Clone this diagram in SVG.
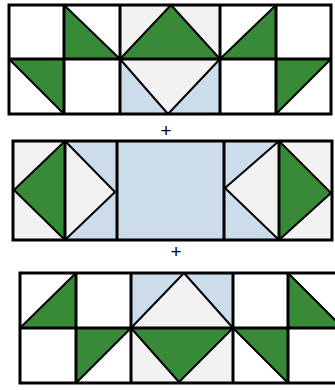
<svg xmlns="http://www.w3.org/2000/svg" width="335" height="390" viewBox="0 0 335 390">
<style>
.g{fill:#388a38;stroke:#000;stroke-width:2;stroke-linejoin:round}
.l{fill:#f2f2f2;stroke:#000;stroke-width:2;stroke-linejoin:round}
.bf{fill:#cddcea}
.lf{fill:#f2f2f2}
.wf{fill:#fff}
.grid{fill:none;stroke:#000;stroke-width:3}
.plus{font-family:"Liberation Sans",Arial,sans-serif;font-size:19px;fill:#000;text-anchor:middle}
</style>
<g id="top-row">
<rect class="wf" x="9" y="5" width="322" height="109"/>
<rect class="lf" x="120" y="5" width="100" height="54"/>
<polygon class="g" points="120,59 171,5 220,59"/>
<rect class="bf" x="120" y="59" width="100" height="55"/>
<polygon class="l" points="120,59 220,59 168,114"/>
<polygon class="g" points="9,59 64,59 64,114"/>
<polygon class="g" points="64,5 64,59 120,59"/>
<polygon class="g" points="220,59 276,5 276,59"/>
<polygon class="g" points="276,59 331,59 276,114"/>
<path class="grid" d="M9,5H331V114H9Z M64,5V114 M120,5V114 M220,5V114 M276,5V114 M9,59H331"/>
</g>
<text id="plus1" class="plus" x="166" y="137">+</text>
<g id="middle-row">
<rect class="lf" x="13" y="141" width="52" height="99"/>
<polygon class="g" points="65,141 14,190 65,240"/>
<rect class="bf" x="65" y="141" width="214" height="99"/>
<polygon class="l" points="65,141 115,192 65,240"/>
<polygon class="l" points="279,141 225,188 279,240"/>
<rect class="lf" x="279" y="141" width="53" height="99"/>
<polygon class="g" points="279,141 331,193 279,240"/>
<path class="grid" d="M13,141H332V240H13Z M65,141V240 M117,141V240 M224,141V240 M279,141V240"/>
</g>
<text id="plus2" class="plus" x="176" y="258">+</text>
<g id="bottom-row">
<rect class="wf" x="20" y="273" width="323" height="110"/>
<rect class="bf" x="131" y="273" width="102" height="55"/>
<polygon class="l" points="131,328 184,273 233,328"/>
<rect class="lf" x="131" y="328" width="102" height="55"/>
<polygon class="g" points="131,328 233,328 179,382"/>
<polygon class="g" points="20,328 76,273 76,328"/>
<polygon class="g" points="76,328 131,328 76,383"/>
<polygon class="g" points="233,328 288,328 288,383"/>
<polygon class="g" points="288,273 343,328 288,328"/>
<path class="grid" d="M20,273H343V383H20Z M76,273V383 M131,273V383 M233,273V383 M288,273V383 M20,328H343"/>
</g>
</svg>
